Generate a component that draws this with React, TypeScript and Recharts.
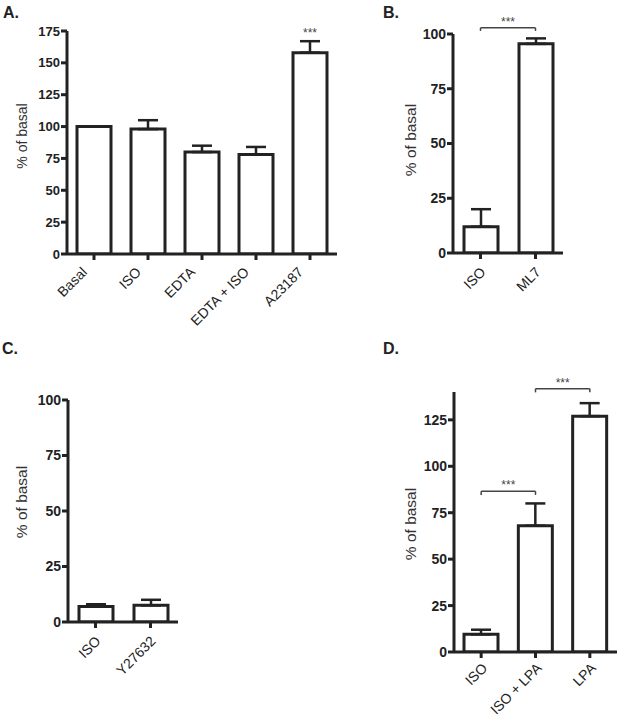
import React from 'react';
import { BarChart, Bar, XAxis, YAxis, ErrorBar, ReferenceLine, ReferenceDot } from 'recharts';

// Panel A
const aCategories = ['Basal', 'ISO', 'EDTA', 'EDTA + ISO', 'A23187'];
const aValues = [100, 98, 80, 78, 158];
const aErrors = [0, 7, 5, 6, 9];
const aTicks = [0, 25, 50, 75, 100, 125, 150, 175];

// Panel B
const bCategories = ['ISO', 'ML7'];
const bValues = [12, 95.5];
const bErrors = [8, 2.5];
const bTicks = [0, 25, 50, 75, 100];

// Panel C
const cCategories = ['ISO', 'Y27632'];
const cValues = [7, 7.5];
const cErrors = [1, 2.5];
const cTicks = [0, 25, 50, 75, 100];

// Panel D
const dCategories = ['ISO', 'ISO + LPA', 'LPA'];
const dValues = [9.5, 68, 127];
const dErrors = [2.5, 12, 7];
const dTicks = [0, 25, 50, 75, 100, 125];

const yLabel = '% of basal';
const sigLabel = '***';

const INK = '#222';
const FONT = '"Liberation Sans", Arial, Helvetica, sans-serif';

const build = (cats: string[], vals: number[], errs: number[]) =>
  cats.map((c, i) => ({ name: c, value: vals[i], err: [0, errs[i]] }));

const makeTick = (dx: number, dy: number, fs: number) => (props: any) => {
  const { x, y, payload } = props;
  return (
    <g transform={`translate(${x + dx},${y + dy}) rotate(-45)`}>
      <text x={0} y={0} textAnchor="end" fontSize={fs} fill={INK} fontFamily={FONT}>
        {payload.value}
      </text>
    </g>
  );
};

type PanelProps = {
  data: any[];
  ticks: number[];
  domain: [number, number];
  width: number;
  height: number;
  margin: { top: number; right: number; bottom: number; left: number };
  xHeight: number;
  tdx: number;
  tdy: number;
  tickFs: number;
  labelX: number;
  labelY: number;
  labelFs: number;
  children?: React.ReactNode;
};

const Panel = (p: PanelProps) => {
  const Tick = makeTick(p.tdx, p.tdy, 14);
  const renderLabel = () => (
    <text
      x={0}
      y={0}
      transform={`translate(${p.labelX},${p.labelY}) rotate(-90)`}
      textAnchor="middle"
      fontSize={p.labelFs}
      fill="#333"
      fontFamily={FONT}
    >
      {yLabel}
    </text>
  );
  return (
    <BarChart width={p.width} height={p.height} data={p.data} margin={p.margin} barSize={34}>
      <XAxis
        dataKey="name"
        interval={0}
        height={p.xHeight}
        axisLine={{ stroke: INK, strokeWidth: 3 }}
        tickLine={{ stroke: INK, strokeWidth: 3 }}
        tickSize={6}
        tick={<Tick />}
      />
      <YAxis
        width={40}
        domain={p.domain}
        ticks={p.ticks}
        interval={0}
        allowDataOverflow
        axisLine={{ stroke: INK, strokeWidth: 3 }}
        tickLine={{ stroke: INK, strokeWidth: 3 }}
        tickSize={6}
        tickMargin={1}
        tick={{ fontSize: p.tickFs, fontWeight: 700, fill: INK, fontFamily: FONT }}
        label={{ content: renderLabel }}
      />
      <Bar dataKey="value" fill="#fff" stroke={INK} strokeWidth={3} isAnimationActive={false}>
        <ErrorBar dataKey="err" width={10} stroke={INK} strokeWidth={2.5} direction="y" />
      </Bar>
      {p.children}
    </BarChart>
  );
};

const starLabel = () => ({ value: sigLabel, position: 'top' as const, offset: 2, fontSize: 12, fill: '#444', fontFamily: FONT });

const Bracket = (a: string, b: string, y: number, drop: number, key: string) => [
  <ReferenceLine key={key + 'h'} segment={[{ x: a, y }, { x: b, y }]} stroke="#444" strokeWidth={1.5} ifOverflow="visible" label={starLabel()} />,
  <ReferenceLine key={key + 'l'} segment={[{ x: a, y }, { x: a, y: y - drop }]} stroke="#444" strokeWidth={1.5} ifOverflow="visible" />,
  <ReferenceLine key={key + 'r'} segment={[{ x: b, y }, { x: b, y: y - drop }]} stroke="#444" strokeWidth={1.5} ifOverflow="visible" />,
];

const letterStyle: React.CSSProperties = {
  position: 'absolute',
  fontFamily: FONT,
  fontWeight: 700,
  fontSize: 16,
  color: INK,
  lineHeight: '16px',
};

export default function App() {
  return (
    <div style={{ position: 'absolute', left: 0, top: 0, width: 622, height: 724, background: '#fff', overflow: 'hidden' }}>
      <div style={{ ...letterStyle, left: 3, top: 5 }}>A.</div>
      <div style={{ ...letterStyle, left: 383, top: 5 }}>B.</div>
      <div style={{ ...letterStyle, left: 2, top: 341 }}>C.</div>
      <div style={{ ...letterStyle, left: 383, top: 341 }}>D.</div>

      <div style={{ position: 'absolute', left: 0, top: 0 }}>
        <Panel
          data={build(aCategories, aValues, aErrors)}
          ticks={aTicks}
          domain={[0, 175]}
          width={345}
          height={330}
          margin={{ top: 31, right: 8, bottom: 0, left: 27 }}
          xHeight={76}
          tdx={-6}
          tdy={11}
          tickFs={13}
          labelX={27}
          labelY={136}
          labelFs={14}
        >
          <ReferenceDot x="A23187" y={168} r={1} fill="none" stroke="none" ifOverflow="visible" label={starLabel()} />
        </Panel>
      </div>

      <div style={{ position: 'absolute', left: 380, top: 0 }}>
        <Panel
          data={build(bCategories, bValues, bErrors)}
          ticks={bTicks}
          domain={[0, 100]}
          width={242}
          height={330}
          margin={{ top: 34, right: 59, bottom: 0, left: 33 }}
          xHeight={77}
          tdx={6}
          tdy={12}
          tickFs={14}
          labelX={36}
          labelY={140}
          labelFs={15.5}
        >
          {Bracket('ISO', 'ML7', 102.8, 1.4, 'b1')}
        </Panel>
      </div>

      <div style={{ position: 'absolute', left: 0, top: 340 }}>
        <Panel
          data={build(cCategories, cValues, cErrors)}
          ticks={cTicks}
          domain={[0, 100]}
          width={240}
          height={384}
          margin={{ top: 60, right: 62, bottom: 0, left: 28 }}
          xHeight={102}
          tdx={6}
          tdy={12}
          tickFs={14}
          labelX={27}
          labelY={162}
          labelFs={15.5}
        />
      </div>

      <div style={{ position: 'absolute', left: 380, top: 340 }}>
        <Panel
          data={build(dCategories, dValues, dErrors)}
          ticks={dTicks}
          domain={[0, 140]}
          width={242}
          height={384}
          margin={{ top: 52, right: 5, bottom: 0, left: 34 }}
          xHeight={72}
          tdx={7}
          tdy={9}
          tickFs={14}
          labelX={36}
          labelY={184}
          labelFs={15.5}
        >
          {Bracket('ISO', 'ISO + LPA', 86.6, 2, 'd1')}
          {Bracket('ISO + LPA', 'LPA', 141.8, 2, 'd2')}
        </Panel>
      </div>
    </div>
  );
}
